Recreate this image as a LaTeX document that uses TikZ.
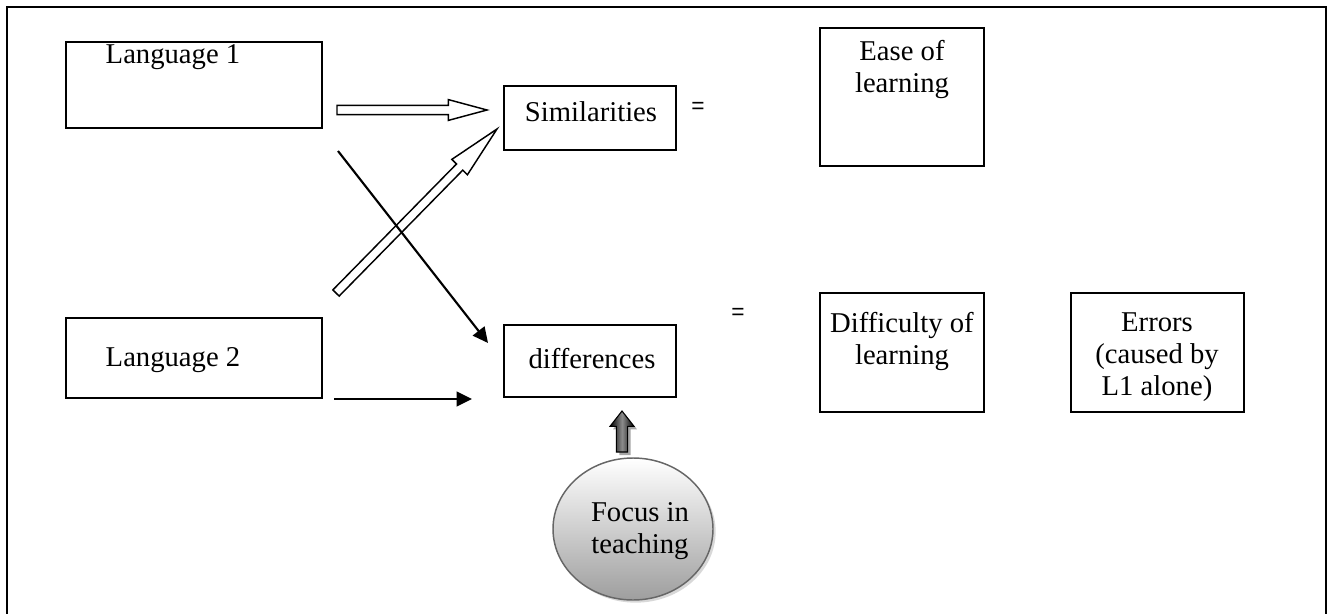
\documentclass[tikz,border=0pt]{standalone}
\usepackage{fontspec}
\setmainfont{Liberation Serif}
\newfontfamily\sansf{Liberation Sans}
\usetikzlibrary{calc,arrows.meta,shadows,shapes.geometric}

% #1 style, #2 tail, #3 tip, #4 half shaft, #5 head length, #6 half head
\newcommand\blockarr[6]{%
  \coordinate (hb) at ($(#3)!#5!(#2)$);
  \path[#1] ($(#2)!#4!90:(#3)$) -- ($(hb)!#4!-90:(#2)$) -- ($(hb)!#6!-90:(#2)$)
    -- (#3) -- ($(hb)!#6!90:(#2)$) -- ($(hb)!#4!90:(#2)$) -- ($(#2)!#4!-90:(#3)$) -- cycle;
}

\begin{document}
\begin{tikzpicture}[x=0.75pt,y=-0.75pt,
  box/.style={draw, line width=1.2pt, inner sep=0pt},
  txt/.style={font=\fontsize{21.5}{24}\selectfont, align=center, inner sep=0pt},
  eq/.style={font=\sansf\fontsize{17}{19}\selectfont, inner sep=0pt},
  linearrow/.style={line width=1.6pt, -{Triangle[length=11.5pt,width=11pt]}},
  hollow/.style={draw, line width=1.1pt, fill=white, line join=miter},
  darkarrow/.style={draw=black, line width=0.8pt, left color=black, right color=black, middle color=black!45},
  shadowarrow/.style={fill=black!35}]
\useasboundingbox (0,0) rectangle (1328,614);
\draw[line width=1.2pt] (7,620) -- (7,7) -- (1326,7) -- (1326,620);

% boxes
\node[box, minimum width=192pt, minimum height=64.5pt] (l1) at (194,85) {};
\node[box, minimum width=192pt, minimum height=60pt] (l2) at (194,358) {};
\node[box, minimum width=129pt, minimum height=48pt] (sim) at (590,118) {};
\node[box, minimum width=129pt, minimum height=54pt] (dif) at (590,361) {};
\node[box, minimum width=123pt, minimum height=103.5pt] (ease) at (902,97) {};
\node[box, minimum width=123pt, minimum height=89.25pt] (diffic) at (902,352.5) {};
\node[box, minimum width=129.75pt, minimum height=89.25pt] (err) at (1157.5,352.5) {};
\node[ellipse, draw=black!60, line width=1.1pt, top color=white, bottom color=black!38,
      drop shadow={shadow xshift=2pt, shadow yshift=-2pt, fill=black!30},
      minimum width=120pt, minimum height=106.5pt] (focus) at (633,529) {};

% texts
\node[txt] (tl1) at (173,57) {Language 1};
\node[txt] (tl2) at (173,360) {Language 2};
\node[txt] (tsim) at (591,112) {Similarities};
\node[txt] (tdif) at (592,359) {differences};
\node[txt] (tease) at (902,70) {Ease of\\learning};
\node[txt] (tdiffic) at (902,341) {Difficulty of\\learning};
\node[txt] (terr) at (1157,357) {Errors\\(caused by\\L1 alone)};
\node[txt] (tfocus) at (640,531) {Focus in\\teaching};
\node[eq] (eq1) at (698,108) {=};
\node[eq] (eq2) at (738,314) {=};

% connectors
\coordinate (h1s) at (337,110); \coordinate (h1e) at (487,110);
\blockarr{hollow}{h1s}{h1e}{3.5pt}{29pt}{7.8pt}
\coordinate (h2s) at (336,293); \coordinate (h2e) at (497,129);
\blockarr{hollow}{h2s}{h2e}{3.3pt}{40pt}{8.2pt}
\coordinate (a3s) at (338,151); \coordinate (a3e) at (488,343);
\draw[linearrow] (a3s) -- (a3e);
\coordinate (a4s) at (334,399); \coordinate (a4e) at (472,399);
\draw[linearrow] (a4s) -- (a4e);
\coordinate (ups) at (625,455); \coordinate (upe) at (625,414);
\blockarr{shadowarrow}{ups}{upe}{4.2pt}{11.5pt}{9pt}
\coordinate (ups2) at (622,452); \coordinate (upe2) at (622,411);
\blockarr{darkarrow}{ups2}{upe2}{4.2pt}{11.5pt}{9pt}
\end{tikzpicture}
\end{document}
